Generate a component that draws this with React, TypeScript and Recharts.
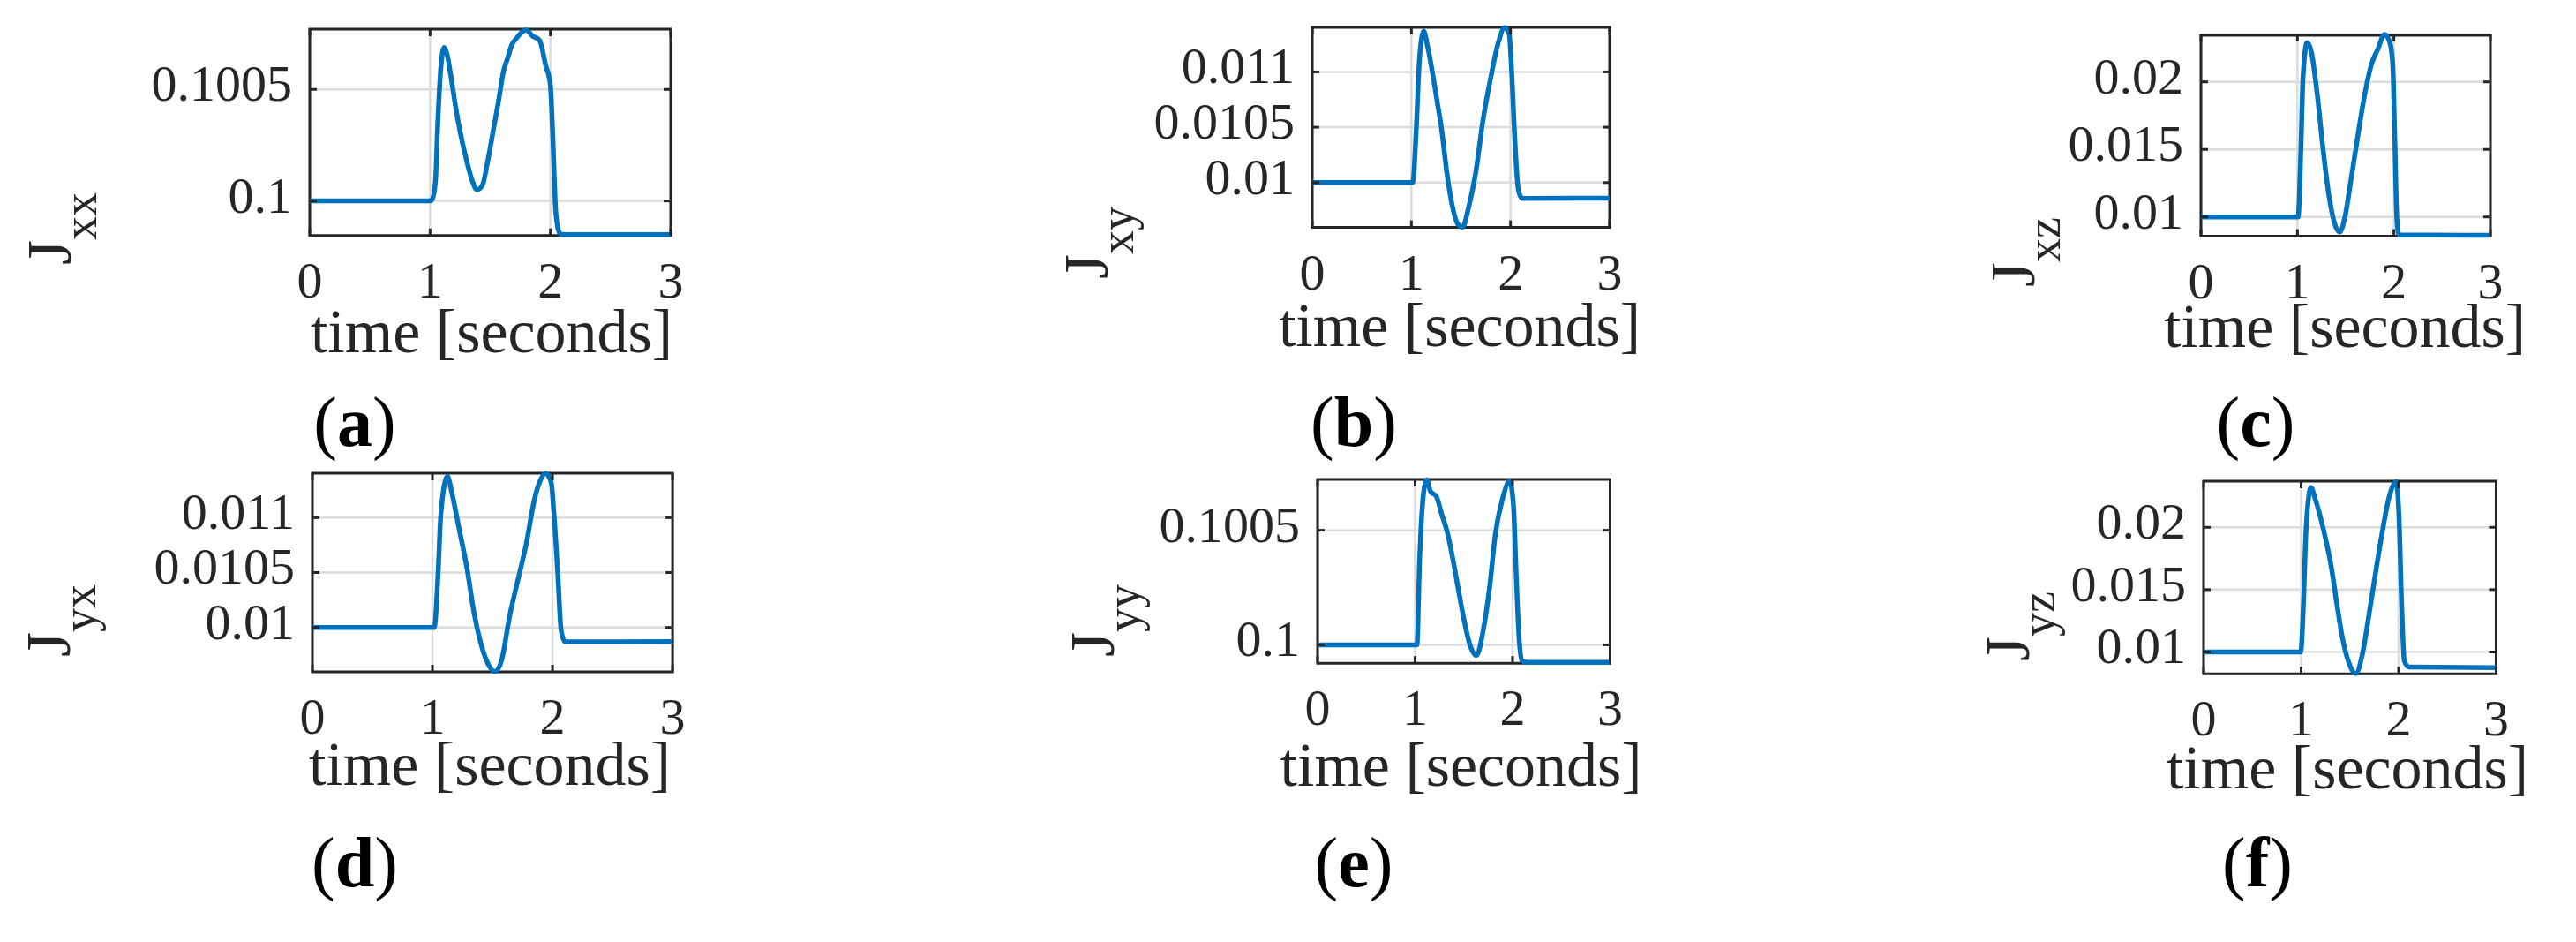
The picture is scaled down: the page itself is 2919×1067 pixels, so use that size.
import React from 'react'
import { LineChart, Line, XAxis, YAxis, CartesianGrid, ReferenceArea } from 'recharts'

// time axis shared by all six panels
const timeTicks = [0, 1, 2, 3]

// (a) Jxx
const timeA = [0, 1.0, 1.02, 1.045, 1.065, 1.09, 1.117, 1.14, 1.17, 1.21, 1.25, 1.3, 1.345, 1.39, 1.435, 1.48, 1.53, 1.57, 1.61, 1.645, 1.68, 1.72, 1.76, 1.8, 1.85, 1.91, 1.96, 2.0, 2.02, 2.045, 2.075, 2.1, 3.0]
const jxx = [0.1, 0.1, 0.10001, 0.10009, 0.10036, 0.1006, 0.100688, 0.10066, 0.10057, 0.10043, 0.10031, 0.10019, 0.1001, 0.10005, 0.10007, 0.10018, 0.10033, 0.10045, 0.10058, 0.10064, 0.1007, 0.10073, 0.100755, 0.100766, 0.10074, 0.10072, 0.10061, 0.10052, 0.10029, 0.09995, 0.099858, 0.099849, 0.099849]
const ticksA = [0.1, 0.1005]

// (b) Jxy
const timeB = [0, 1.0, 1.013, 1.05, 1.08, 1.124, 1.163, 1.219, 1.26, 1.302, 1.358, 1.413, 1.469, 1.514, 1.58, 1.653, 1.72, 1.803, 1.875, 1.942, 1.987, 2.014, 2.042, 2.081, 2.12, 3.0]
const jxy = [0.01, 0.01, 0.01, 0.0105, 0.011095, 0.011368, 0.011232, 0.01096, 0.01073, 0.0105, 0.010087, 0.009787, 0.009624, 0.009597, 0.009787, 0.010114, 0.01055, 0.01096, 0.011259, 0.0114, 0.01134, 0.01096, 0.010414, 0.009924, 0.009856, 0.00986]
const ticksB = [0.01, 0.0105, 0.011]

// (c) Jxz
const timeC = [0, 1.0, 1.007, 1.035, 1.058, 1.1, 1.147, 1.203, 1.27, 1.326, 1.382, 1.438, 1.494, 1.55, 1.623, 1.69, 1.774, 1.83, 1.903, 1.953, 1.987, 2.009, 2.031, 2.054, 3.0]
const jxz = [0.01, 0.01, 0.01, 0.01474, 0.02034, 0.0229, 0.02213, 0.01922, 0.01474, 0.01161, 0.0096, 0.00888, 0.01004, 0.01251, 0.01586, 0.01877, 0.02145, 0.02235, 0.02351, 0.02302, 0.02145, 0.01586, 0.00982, 0.00866, 0.00864]
const ticksC = [0.01, 0.015, 0.02]

// (d) Jyx
const timeD = [0, 1.0, 1.015, 1.047, 1.07, 1.125, 1.162, 1.217, 1.291, 1.346, 1.401, 1.461, 1.52, 1.576, 1.644, 1.713, 1.782, 1.851, 1.897, 1.943, 1.989, 2.012, 2.044, 2.072, 2.104, 3.0]
const jyx = [0.01, 0.01, 0.01, 0.01049, 0.011035, 0.011376, 0.011226, 0.010926, 0.010518, 0.010136, 0.009864, 0.009673, 0.009597, 0.0097, 0.010109, 0.010436, 0.010763, 0.011172, 0.011335, 0.011403, 0.011322, 0.011035, 0.01049, 0.009973, 0.009869, 0.00987]
const ticksD = [0.01, 0.0105, 0.011]

// (e) Jyy
const timeE = [0, 1.0, 1.019, 1.047, 1.087, 1.12, 1.16, 1.217, 1.273, 1.33, 1.387, 1.443, 1.5, 1.556, 1.63, 1.698, 1.766, 1.822, 1.896, 1.97, 2.009, 2.037, 2.066, 2.094, 2.15, 3.0]
const jyy = [0.1, 0.1, 0.1, 0.100375, 0.100662, 0.10072, 0.100668, 0.100649, 0.10057, 0.100492, 0.100375, 0.100244, 0.100114, 0.100009, 0.099954, 0.100061, 0.100257, 0.100479, 0.100636, 0.100714, 0.10061, 0.100309, 0.100035, 0.099931, 0.099924, 0.099924]
const ticksE = [0.1, 0.1005]

// (f) Jyz
const timeF = [0, 0.996, 1.024, 1.051, 1.101, 1.146, 1.229, 1.312, 1.367, 1.422, 1.494, 1.561, 1.627, 1.699, 1.771, 1.837, 1.904, 1.976, 2.003, 2.031, 2.059, 2.103, 3.0]
const jyz = [0.01, 0.01, 0.01384, 0.01983, 0.02319, 0.02223, 0.01983, 0.01671, 0.01384, 0.0112, 0.00904, 0.00827, 0.00976, 0.01312, 0.01671, 0.01983, 0.02247, 0.02367, 0.02103, 0.01384, 0.00928, 0.0088, 0.00875]
const ticksF = [0.01, 0.015, 0.02]

const FONT = '"Liberation Serif", "Times New Roman", serif'
const INK = '#262626'
const BLUE = '#0072BD'
const PAD_L = 210
const PAD_T = 20
const PAD_R = 40
const PAD_B = 90

type Panel = {
  letter: string
  sub: string
  time: number[]
  values: number[]
  ticks: number[]
  domain: [number, number]
  box: [number, number, number, number] // left, right, top, bottom
  ylab: [number, number] // cap-top x, start y
  xlab: [number, number] // center x, baseline
  tag: [number, number] // center x, baseline
}

const panels: Panel[] = [
  { letter: 'a', sub: 'xx', time: timeA, values: jxx, ticks: ticksA, domain: [0.099845, 0.10077], box: [351, 760, 33.4, 267.2], ylab: [32, 300], xlab: [557, 399], tag: [402, 505] },
  { letter: 'b', sub: 'xy', time: timeB, values: jxy, ticks: ticksB, domain: [0.009595, 0.011402], box: [1487, 1824, 30.6, 257.2], ylab: [1207, 316], xlab: [1654, 392], tag: [1534, 505] },
  { letter: 'c', sub: 'xz', time: timeC, values: jxz, ticks: ticksC, domain: [0.00857, 0.02345], box: [2494, 2822, 38.6, 267.2], ylab: [2257, 325], xlab: [2657, 393], tag: [2556, 505] },
  { letter: 'd', sub: 'yx', time: timeD, values: jyx, ticks: ticksD, domain: [0.009595, 0.011405], box: [354.4, 762.5, 535.8, 760.8], ylab: [31, 744], xlab: [555, 889], tag: [402, 1004] },
  { letter: 'e', sub: 'yy', time: timeE, values: jyy, ticks: ticksE, domain: [0.09992, 0.100722], box: [1492.5, 1824, 542.7, 750.9], ylab: [1214, 744], xlab: [1655.6, 890], tag: [1534, 1004] },
  { letter: 'f', sub: 'yz', time: timeF, values: jyz, ticks: ticksF, domain: [0.00825, 0.0237], box: [2497, 2828.5, 544.7, 762.9], ylab: [2251, 749], xlab: [2660, 893], tag: [2558, 1004] },
]

function PanelChart({ p }: { p: Panel }) {
  const [L, R, T, B] = p.box
  const w = R - L
  const h = B - T
  const data = p.time.map((t, i) => ({ t, v: p.values[i] }))

  const xTick = (props: any) => {
    const { x, y, payload } = props
    return (
      <g>
        <line x1={x} x2={x} y1={y} y2={y - 8} stroke={INK} strokeWidth={3} />
        <line x1={x} x2={x} y1={y - h} y2={y - h + 8} stroke={INK} strokeWidth={3} />
        <text x={x} y={y + 70} textAnchor="middle" fontFamily={FONT} fontSize={58} fill={INK}>
          {String(payload.value)}
        </text>
      </g>
    )
  }

  const yTick = (props: any) => {
    const { x, y, payload } = props
    return (
      <g>
        <line x1={x} x2={x + 8} y1={y} y2={y} stroke={INK} strokeWidth={3} />
        <line x1={x + w - 8} x2={x + w} y1={y} y2={y} stroke={INK} strokeWidth={3} />
        <text x={x - 20} y={y + 13} textAnchor="end" fontFamily={FONT} fontSize={58} fill={INK}>
          {String(payload.value)}
        </text>
      </g>
    )
  }

  return (
    <div style={{ position: 'absolute', left: L - PAD_L, top: T - PAD_T }}>
      <LineChart
        width={w + PAD_L + PAD_R}
        height={h + PAD_T + PAD_B}
        data={data}
        margin={{ top: PAD_T, right: PAD_R, left: 0, bottom: 0 }}
        style={{ overflow: 'visible' }}
      >
        <CartesianGrid stroke="#dcdcdc" strokeWidth={2.5} />
        <XAxis
          dataKey="t"
          type="number"
          domain={[0, 3]}
          ticks={timeTicks}
          interval={0}
          height={PAD_B}
          axisLine={false}
          tickLine={false}
          tickSize={0}
          tickMargin={0}
          tick={xTick}
        />
        <YAxis
          type="number"
          domain={p.domain}
          ticks={p.ticks}
          interval={0}
          width={PAD_L}
          axisLine={false}
          tickLine={false}
          tickSize={0}
          tickMargin={0}
          tick={yTick}
        />
        <ReferenceArea
          x1={0}
          x2={3}
          y1={p.domain[0]}
          y2={p.domain[1]}
          fill="#ffffff"
          fillOpacity={0}
          stroke={INK}
          strokeWidth={3}
        />
        <Line
          type="monotone"
          dataKey="v"
          stroke={BLUE}
          strokeWidth={5.5}
          dot={false}
          activeDot={false}
          isAnimationActive={false}
        />
      </LineChart>
    </div>
  )
}

export default function App() {
  return (
    <div style={{ position: 'absolute', left: 0, top: 0, width: 2919, height: 1067, background: '#ffffff', overflow: 'hidden' }}>
      {panels.map(p => (
        <PanelChart key={p.letter} p={p} />
      ))}
      <svg width={2919} height={1067} style={{ position: 'absolute', left: 0, top: 0, pointerEvents: 'none' }}>
        {panels.map(p => (
          <g key={p.letter}>
            <text
              x={p.ylab[0] + 48}
              y={p.ylab[1]}
              transform={`rotate(-90 ${p.ylab[0] + 48} ${p.ylab[1]})`}
              fontFamily={FONT}
              fontSize={72}
              fill={INK}
            >
              J<tspan fontSize={54} dy={29}>{p.sub}</tspan>
            </text>
            <text x={p.xlab[0]} y={p.xlab[1]} textAnchor="middle" fontFamily={FONT} fontSize={70} fill={INK}>
              time [seconds]
            </text>
            <text x={p.tag[0]} y={p.tag[1]} textAnchor="middle" fontFamily={FONT} fontSize={80} fill="#000000">
              (<tspan fontWeight="bold">{p.letter}</tspan>)
            </text>
          </g>
        ))}
      </svg>
    </div>
  )
}
